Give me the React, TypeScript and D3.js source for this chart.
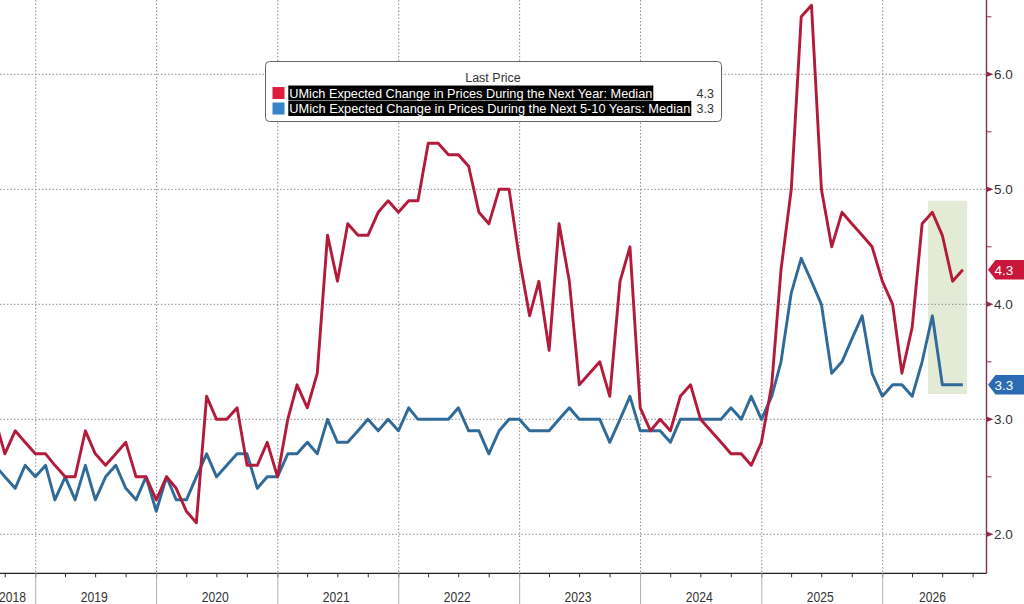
import React from "react";
import * as d3 from "d3";

// ---------- data ----------
const startYear = 2018;
const startMonth = 7; // August (0-based), monthly observations plotted at month end

const oneYear: number[] = [
  3.0, 2.7, 2.9, 2.8, 2.7,
  2.7, 2.6, 2.5, 2.5, 2.9, 2.7, 2.6, 2.7, 2.8, 2.5, 2.5, 2.3,
  2.5, 2.4, 2.2, 2.1, 3.2, 3.0, 3.0, 3.1, 2.6, 2.6, 2.8, 2.5,
  3.0, 3.3, 3.1, 3.4, 4.6, 4.2, 4.7, 4.6, 4.6, 4.8, 4.9, 4.8,
  4.9, 4.9, 5.4, 5.4, 5.3, 5.3, 5.2, 4.8, 4.7, 5.0, 5.0, 4.4,
  3.9, 4.2, 3.6, 4.7, 4.2, 3.3, 3.4, 3.5, 3.2, 4.2, 4.5, 3.1,
  2.9, 3.0, 2.9, 3.2, 3.3, 3.0, 2.9, 2.8, 2.7, 2.7, 2.6, 2.8,
  3.3, 4.3, 5.0, 6.5, 6.6, 5.0, 4.5, 4.8, 4.7, 4.6, 4.5, 4.2,
  4.0, 3.4, 3.8, 4.7, 4.8, 4.6, 4.2, 4.3,
];

const fiveTen: number[] = [
  2.6, 2.5, 2.4, 2.6, 2.5,
  2.6, 2.3, 2.5, 2.3, 2.6, 2.3, 2.5, 2.6, 2.4, 2.3, 2.5, 2.2,
  2.5, 2.3, 2.3, 2.5, 2.7, 2.5, 2.6, 2.7, 2.7, 2.4, 2.5, 2.5,
  2.7, 2.7, 2.8, 2.7, 3.0, 2.8, 2.8, 2.9, 3.0, 2.9, 3.0, 2.9,
  3.1, 3.0, 3.0, 3.0, 3.0, 3.1, 2.9, 2.9, 2.7, 2.9, 3.0, 3.0,
  2.9, 2.9, 2.9, 3.0, 3.1, 3.0, 3.0, 3.0, 2.8, 3.0, 3.2, 2.9,
  2.9, 2.9, 2.8, 3.0, 3.0, 3.0, 3.0, 3.0, 3.1, 3.0, 3.2, 3.0,
  3.2, 3.5, 4.1, 4.4, 4.2, 4.0, 3.4, 3.5, 3.7, 3.9, 3.4, 3.2,
  3.3, 3.3, 3.2, 3.5, 3.9, 3.3, 3.3, 3.3,
];

const yearLabels: number[] = [2018, 2019, 2020, 2021, 2022, 2023, 2024, 2025, 2026];
const yTicks: number[] = [2.0, 3.0, 4.0, 5.0, 6.0];
const yMinorTicks: number[] = [2.5, 3.5, 4.5, 5.5, 6.5];

const seriesNames: string[] = [
  "UMich Expected Change in Prices During the Next Year: Median",
  "UMich Expected Change in Prices During the Next 5-10 Years: Median",
];
const legendTitle = "Last Price";

// highlighted window (dates / values)
const highlightStart = new Date(2026, 4, 18);
const highlightEnd = new Date(2026, 8, 13);
const highlightLow = 3.22;
const highlightHigh = 4.9;

// ---------- styling ----------
const W = 1024;
const H = 604;
const axisX = 986.5;
const axisY = 573.3;
const redLine = "#b31b3b";
const blueLine = "#2f6a99";
const redTag = "#c8173a";
const blueTag = "#2a6cb4";
const axisColor = "#8b2a52";
const gridColor = "#8a8a8a";
const textColor = "#333";
const font = "'Liberation Sans', Arial, sans-serif";

const dates: Date[] = oneYear.map((_, i) => new Date(startYear, startMonth + i + 1, 0));

export default function App() {
  const x = d3
    .scaleTime()
    .domain([new Date(2019, 0, 1), new Date(2026, 0, 1)])
    .range([35.7, 882.7]);
  const y = d3.scaleLinear().domain([2, 6]).range([534.3, 74.3]);

  const line = d3
    .line<number>()
    .x((_, i) => x(dates[i]))
    .y((d) => y(d));

  const yearStarts = yearLabels.map((yr) => new Date(yr, 0, 1));
  const quarterTicks = d3.timeMonth
    .every(3)!
    .range(new Date(2018, 6, 1), new Date(2027, 0, 1))
    .filter((d) => x(d) >= 0 && x(d) < axisX);

  const lastRed = oneYear[oneYear.length - 1];
  const lastBlue = fiveTen[fiveTen.length - 1];

  const tag = (v: number, color: string) => {
    const cy = y(v);
    const h = 19.5;
    const p = `M${axisX + 1.5},${cy} L${axisX + 9},${cy - h / 2} L${W},${cy - h / 2} L${W},${cy + h / 2} L${axisX + 9},${cy + h / 2} Z`;
    return (
      <g>
        <path d={p} fill={color} />
        <text x={1004} y={cy + 4.8} fill="#fff" fontSize={13.5} textAnchor="middle" fontFamily={font}>
          {v.toFixed(1)}
        </text>
      </g>
    );
  };

  return (
    <svg
      width={W}
      height={H}
      style={{ position: "absolute", left: 0, top: 0, background: "#fff" }}
      fontFamily={font}
    >
      <defs>
        <clipPath id="plot">
          <rect x={0} y={0} width={axisX} height={axisY} />
        </clipPath>
      </defs>
      <rect x={0} y={0} width={W} height={H} fill="#fff" />

      {/* highlight */}
      <rect
        x={x(highlightStart)}
        y={y(highlightHigh)}
        width={x(highlightEnd) - x(highlightStart)}
        height={y(highlightLow) - y(highlightHigh)}
        fill="#e3ebd7"
      />

      {/* grid */}
      {yearStarts
        .filter((d) => x(d) > 0)
        .map((d, i) => (
          <line
            key={"vg" + i}
            x1={x(d)}
            x2={x(d)}
            y1={0}
            y2={axisY}
            stroke={gridColor}
            strokeWidth={1}
            strokeDasharray="1.5,2"
          />
        ))}
      {yTicks.map((t) => (
        <line
          key={"hg" + t}
          x1={0}
          x2={axisX}
          y1={y(t)}
          y2={y(t)}
          stroke={gridColor}
          strokeWidth={1}
          strokeDasharray="1.5,2"
        />
      ))}

      {/* lines */}
      <g clipPath="url(#plot)">
        <path d={line(fiveTen) || ""} fill="none" stroke={blueLine} strokeWidth={2.9} strokeLinejoin="round" />
        <path d={line(oneYear) || ""} fill="none" stroke={redLine} strokeWidth={2.9} strokeLinejoin="round" />
      </g>

      {/* bottom axis */}
      <line x1={0} x2={axisX} y1={axisY} y2={axisY} stroke="#222" strokeWidth={1.3} />
      {quarterTicks.map((d, i) => (
        <line key={"qt" + i} x1={x(d)} x2={x(d)} y1={axisY} y2={axisY + 4} stroke="#333" strokeWidth={1} />
      ))}
      {yearStarts
        .filter((d) => x(d) > 0)
        .map((d, i) => (
          <line key={"ys" + i} x1={x(d)} x2={x(d)} y1={axisY} y2={H} stroke="#b0b0b0" strokeWidth={1} />
        ))}
      {yearLabels.map((yr) => {
        const a = Math.max(0, x(new Date(yr, 0, 1)));
        const b = Math.min(axisX, x(new Date(yr + 1, 0, 1)));
        const cx = yr === 2018 ? 12.5 : (a + b) / 2 - 2;
        return (
          <text
            key={"yl" + yr}
            x={cx}
            y={602}
            fontSize={14}
            fill={textColor}
            textAnchor="middle"
            textLength={27}
            lengthAdjust="spacingAndGlyphs"
          >
            {yr}
          </text>
        );
      })}

      {/* right axis */}
      <line x1={axisX} x2={axisX} y1={0} y2={axisY} stroke={axisColor} strokeWidth={1.4} />
      {yMinorTicks.map((t) => (
        <line key={"mt" + t} x1={axisX} x2={axisX + 5} y1={y(t)} y2={y(t)} stroke={axisColor} strokeWidth={1} />
      ))}
      {yTicks.map((t) => (
        <g key={"yt" + t}>
          <path
            d={`M${axisX},${y(t) - 2.8} L${axisX + 7},${y(t)} L${axisX},${y(t) + 2.8} Z`}
            fill={axisColor}
          />
          <text x={994} y={y(t) + 5} fontSize={13.5} fill={textColor}>
            {t.toFixed(1)}
          </text>
        </g>
      ))}

      {tag(lastRed, redTag)}
      {tag(lastBlue, blueTag)}

      {/* legend */}
      <g>
        <rect x={265.5} y={61.5} width={456} height={60} rx={4} fill="#fff" stroke="#666" strokeWidth={1} />
        <text x={493} y={82} fontSize={12.5} fill={textColor} textAnchor="middle">
          {legendTitle}
        </text>
        {[
          { name: seriesNames[0], val: lastRed, sw: "#dd1f3b", textW: 363, top: 85.5 },
          { name: seriesNames[1], val: lastBlue, sw: "#3485c9", textW: 401, top: 101 },
        ].map((r, i) => (
          <g key={"lg" + i}>
            <rect x={272.5} y={r.top + 1.5} width={12} height={12} fill={r.sw} />
            <rect x={288.3} y={r.top} width={r.textW + 2} height={15} fill="#000" />
            <text
              x={289.3}
              y={r.top + 12}
              fontSize={13}
              fill="#fff"
              textLength={r.textW}
              lengthAdjust="spacingAndGlyphs"
            >
              {r.name}
            </text>
            <text x={714} y={r.top + 12} fontSize={12.5} fill={textColor} textAnchor="end">
              {r.val.toFixed(1)}
            </text>
          </g>
        ))}
      </g>
    </svg>
  );
}
